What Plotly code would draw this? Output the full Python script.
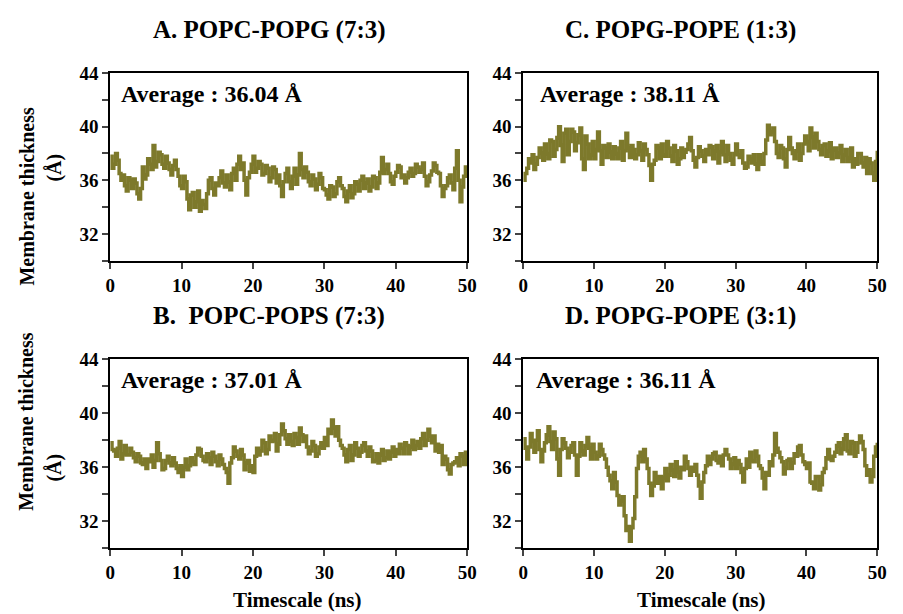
import plotly.graph_objects as go

# Time axis (ns), sampled every 0.25 ns
TIME_NS = [i * 0.25 for i in range(201)]

# A. POPC-POPG (7:3)
THICK_A = [37.8, 36.9, 37.2, 38.0, 37.5, 36.5, 36.0, 36.4, 35.6, 35.2, 36.2, 36.0, 35.4, 36.1, 35.8, 35.0, 34.6, 35.4, 37.0, 36.1,
           36.4, 37.6, 37.2, 36.8, 38.6, 37.0, 37.4, 38.1, 37.9, 37.2, 36.9, 37.8, 37.3, 36.8, 36.4, 37.1, 37.5, 36.8, 36.3, 35.6,
           35.4, 36.3, 35.9, 34.6, 33.8, 34.9, 35.1, 34.0, 34.4, 35.2, 33.7, 34.5, 34.2, 33.9, 35.0, 36.0, 36.2, 35.4, 34.9, 35.8,
           35.6, 36.2, 36.7, 35.8, 35.5, 36.4, 35.9, 35.3, 36.5, 36.9, 36.0, 37.2, 37.8, 36.8, 37.3, 36.0, 34.9, 36.2, 36.6, 37.2,
           37.8, 36.6, 36.9, 37.4, 37.2, 36.4, 36.5, 37.1, 36.9, 35.9, 36.2, 37.0, 36.8, 35.8, 36.4, 35.6, 34.8, 35.9, 36.5, 36.9,
           35.9, 35.4, 36.3, 36.9, 35.7, 36.4, 38.0, 36.8, 36.2, 37.0, 36.6, 35.9, 35.6, 36.4, 36.1, 35.3, 35.7, 36.5, 36.2, 35.4,
           35.3, 34.9, 34.6, 35.6, 35.5, 34.8, 35.0, 35.9, 36.2, 35.6, 35.4, 34.8, 34.4, 35.2, 35.6, 34.7, 35.0, 35.9, 35.7, 35.2,
           36.0, 36.3, 35.4, 35.8, 36.1, 35.2, 35.5, 36.3, 36.2, 35.4, 35.8, 36.6, 37.7, 36.5, 36.8, 37.2, 36.5, 35.9, 35.7, 36.3,
           36.6, 37.1, 37.0, 36.2, 36.4, 35.8, 36.2, 36.6, 36.9, 36.3, 36.5, 37.2, 37.0, 36.6, 36.8, 37.3, 36.3, 35.6, 35.9, 36.4,
           36.7, 37.3, 37.1, 36.6, 36.5, 35.6, 34.8, 35.4, 35.6, 36.2, 36.4, 35.8, 35.3, 36.9, 38.2, 36.0, 34.4, 35.5, 36.3, 37.0,
           36.5]

# B. POPC-POPS (7:3)
THICK_B = [37.8, 37.3, 37.2, 36.8, 37.4, 37.9, 36.6, 37.0, 37.6, 36.9, 36.9, 37.4, 37.1, 36.7, 36.4, 37.0, 36.8, 36.3, 36.2, 36.6,
           35.9, 36.6, 36.4, 36.9, 36.0, 36.5, 37.8, 37.0, 36.5, 35.8, 35.9, 36.5, 36.8, 36.3, 36.1, 36.7, 36.3, 35.9, 35.6, 36.1,
           35.3, 36.0, 36.6, 35.8, 36.1, 36.7, 36.4, 36.2, 36.9, 37.4, 37.3, 36.8, 36.5, 36.4, 37.0, 36.7, 36.2, 37.1, 36.8, 36.4,
           36.1, 36.9, 36.6, 36.2, 35.9, 35.6, 34.8, 36.3, 36.7, 37.5, 37.2, 36.8, 36.6, 37.3, 36.9, 35.8, 36.3, 36.5, 35.7, 36.1,
           35.6, 36.8, 37.4, 36.9, 37.2, 38.0, 37.8, 37.0, 37.3, 38.3, 37.9, 38.0, 38.5, 37.2, 37.7, 38.4, 39.2, 38.7, 38.1, 37.7,
           38.4, 37.9, 37.6, 38.5, 38.2, 37.7, 38.9, 38.4, 37.9, 38.3, 37.5, 37.0, 37.2, 37.9, 37.6, 36.8, 37.0, 37.5, 37.8, 37.4,
           38.2, 37.6, 38.8, 38.5, 39.5, 38.9, 38.3, 39.0, 38.0, 37.6, 37.4, 36.9, 36.4, 37.3, 37.6, 36.5, 36.9, 37.8, 37.4, 36.8,
           37.1, 37.6, 37.8, 37.2, 36.8, 37.5, 37.2, 36.4, 36.5, 37.0, 36.3, 36.9, 37.3, 36.5, 36.7, 37.2, 36.6, 37.1, 37.5, 36.8,
           37.3, 37.0, 37.7, 37.4, 37.0, 37.8, 37.6, 37.0, 37.5, 38.0, 37.3, 37.6, 37.9, 37.4, 38.1, 38.5, 37.6, 38.0, 38.8, 38.3,
           37.8, 38.3, 37.2, 37.7, 37.1, 37.6, 36.2, 36.8, 36.6, 35.8, 35.5, 36.2, 36.3, 36.4, 36.7, 36.1, 37.0, 36.8, 36.2, 37.1,
           36.6]

# C. POPG-POPE (1:3)
THICK_C = [36.0, 36.5, 36.9, 37.6, 37.3, 37.9, 36.8, 37.2, 37.7, 38.4, 38.0, 37.5, 38.7, 38.0, 37.6, 39.0, 38.9, 37.8, 38.3, 39.2,
           40.0, 38.6, 37.4, 39.5, 39.8, 37.9, 38.9, 39.8, 39.6, 38.2, 38.8, 39.4, 39.9, 37.6, 36.8, 39.3, 38.7, 37.6, 37.9, 38.9,
           37.6, 38.3, 39.6, 38.2, 37.2, 38.6, 38.4, 37.7, 38.7, 38.1, 37.6, 38.5, 38.0, 37.6, 38.4, 38.9, 37.5, 38.2, 39.5, 38.4,
           37.7, 38.6, 38.3, 37.6, 37.9, 38.8, 38.2, 37.5, 38.7, 38.3, 37.9, 37.1, 36.0, 37.2, 37.5, 38.6, 38.4, 37.6, 38.7, 37.9,
           37.8, 38.9, 38.4, 37.8, 37.4, 38.6, 38.2, 37.2, 37.6, 38.4, 37.7, 38.1, 38.3, 38.7, 39.2, 38.2, 37.5, 37.0, 37.7, 38.5,
           38.2, 37.8, 37.4, 38.3, 37.9, 38.6, 38.5, 37.6, 38.2, 38.6, 37.3, 38.1, 38.9, 37.9, 37.4, 38.6, 38.0, 37.5, 37.2, 38.0,
           38.7, 37.9, 37.7, 38.2, 37.3, 36.9, 37.0, 37.8, 37.6, 37.3, 37.9, 37.2, 36.8, 37.9, 37.4, 37.2, 38.0, 39.0, 40.1, 39.4,
           39.6, 39.9, 38.9, 38.0, 37.7, 38.6, 38.4, 37.6, 37.0, 38.3, 39.2, 38.4, 38.0, 37.6, 38.2, 38.7, 37.5, 38.0, 38.7, 39.3,
           38.9, 38.2, 39.9, 39.2, 38.4, 39.5, 38.9, 38.3, 37.9, 38.6, 38.7, 37.8, 38.2, 38.8, 37.6, 38.3, 38.4, 37.7, 38.0, 38.6,
           37.4, 37.9, 38.3, 37.4, 37.7, 38.4, 37.0, 37.6, 37.2, 38.0, 38.0, 37.3, 37.0, 37.7, 36.5, 37.6, 37.3, 36.5, 36.0, 37.4,
           38.2]

# D. POPG-POPE (3:1)
THICK_D = [38.1, 37.4, 36.6, 37.5, 38.5, 37.9, 37.1, 38.0, 38.7, 37.3, 36.4, 37.2, 37.8, 38.4, 39.0, 37.9, 37.3, 38.6, 38.1, 36.6,
           35.4, 37.3, 38.1, 37.8, 37.4, 36.7, 37.1, 37.6, 37.8, 36.9, 35.4, 36.8, 37.8, 37.2, 36.9, 37.6, 38.2, 37.4, 36.6, 37.7,
           37.1, 36.6, 36.8, 37.7, 37.3, 36.9, 36.6, 36.0, 35.4, 35.0, 34.4, 35.6, 34.9, 33.9, 33.2, 33.5, 33.8, 32.4, 31.3, 31.6,
           30.5, 31.5, 32.2, 33.8, 35.9, 36.8, 37.1, 36.4, 37.3, 36.6, 35.9, 34.8, 33.9, 34.6, 35.6, 35.3, 34.8, 35.3, 34.4, 35.2,
           35.9, 35.0, 35.4, 36.2, 35.8, 35.3, 36.4, 35.6, 35.2, 36.0, 35.8, 36.8, 36.4, 35.9, 35.4, 36.0, 35.7, 36.2, 35.4, 34.6,
           33.7, 34.9, 35.6, 36.1, 36.8, 36.2, 36.6, 37.0, 37.1, 36.5, 36.3, 36.8, 36.1, 36.9, 37.3, 36.9, 36.6, 35.9, 36.2, 36.7,
           35.9, 36.5, 36.2, 35.6, 34.9, 35.9, 36.6, 36.0, 37.1, 36.5, 36.4, 37.2, 36.8, 36.1, 35.9, 35.2, 34.4, 35.6, 35.4, 36.4,
           36.1, 36.9, 38.5, 37.4, 37.1, 36.7, 36.4, 35.5, 35.9, 36.5, 36.6, 35.9, 36.3, 37.0, 36.8, 37.5, 37.6, 36.9, 36.4, 36.2,
           35.9, 36.3, 34.9, 34.8, 34.4, 35.3, 35.3, 34.3, 34.7, 35.6, 35.9, 36.7, 37.3, 36.6, 36.5, 36.8, 37.1, 37.6, 37.8, 37.0,
           37.3, 38.1, 38.4, 37.2, 37.0, 37.9, 37.8, 36.8, 37.1, 37.8, 38.3, 37.9, 37.3, 36.1, 35.4, 35.8, 34.9, 35.3, 36.8, 37.5,
           37.8]

PANEL_TITLES = ["A. POPC-POPG (7:3)", "C. POPG-POPE (1:3)",
                "B.  POPC-POPS (7:3)", "D. POPG-POPE (3:1)"]
AVERAGES = ["Average : 36.04 Å", "Average : 38.11 Å",
            "Average : 37.01 Å", "Average : 36.11 Å"]
Y_TICKS = [30, 32, 34, 36, 38, 40, 42, 44]
Y_TICK_TEXT = ["", "32", "", "36", "", "40", "", "44"]
X_TICKS = [0, 10, 20, 30, 40, 50]

W, H = 903, 614
LINE_COLOR = "#7d792b"
FONT = "Liberation Serif, Times New Roman, serif"

# pixel boxes: (left, right, top, bottom)
boxes = [(107, 470, 64, 255), (527, 887, 64, 255),
         (107, 470, 355, 547), (527, 887, 355, 547)]
avg_left = [116, 542, 116, 538]
series = [THICK_A, THICK_C, THICK_B, THICK_D]

fig = go.Figure()
annotations = []
for i, (box, ys) in enumerate(zip(boxes, series)):
    l, r, t, b = box
    n = i + 1
    xa = "x" if n == 1 else f"x{n}"
    ya = "y" if n == 1 else f"y{n}"
    fig.add_trace(go.Scatter(x=TIME_NS, y=ys, mode="lines",
                             line=dict(color=LINE_COLOR, width=3.5, shape="hv"),
                             xaxis=xa, yaxis=ya, showlegend=False,
                             hoverinfo="skip"))
    xkey = "xaxis" if n == 1 else f"xaxis{n}"
    ykey = "yaxis" if n == 1 else f"yaxis{n}"
    fig.update_layout(**{
        xkey: dict(domain=[l / W, r / W], anchor=ya, range=[0, 50],
                   tickvals=X_TICKS, ticks="outside", ticklen=6, tickwidth=2,
                   showline=True, mirror=True, linewidth=2, linecolor="black",
                   showgrid=False, zeroline=False,
                   tickfont=dict(family=FONT, size=19, color="black", weight="bold")),
        ykey: dict(domain=[1 - b / H, 1 - t / H], anchor=xa, range=[30, 44],
                   tickvals=Y_TICKS, ticktext=Y_TICK_TEXT, ticks="outside",
                   ticklen=6, tickwidth=2,
                   showline=True, mirror=True, linewidth=2, linecolor="black",
                   showgrid=False, zeroline=False,
                   tickfont=dict(family=FONT, size=19, color="black", weight="bold")),
    })
    # panel title
    annotations.append(dict(text=PANEL_TITLES[i], xref="paper", yref="paper",
                            x=((l + r) / 2 - 20) / W, y=1 - (t - 44) / H,
                            xanchor="center", yanchor="middle", showarrow=False,
                            font=dict(family=FONT, size=25, color="black", weight="bold")))
    # average label
    annotations.append(dict(text=AVERAGES[i], xref="paper", yref="paper",
                            x=avg_left[i] / W, y=1 - (t + 21) / H,
                            xanchor="left", yanchor="middle", showarrow=False,
                            font=dict(family=FONT, size=24, color="black", weight="bold")))

# y-axis titles (per row)
for ymid, yA in [(189, 160), (418, 465)]:
    annotations.append(dict(text="Membrane thickness", xref="paper", yref="paper",
                            x=22 / W, y=1 - ymid / H, textangle=-90,
                            xanchor="center", yanchor="middle", showarrow=False,
                            font=dict(family=FONT, size=20, color="black", weight="bold")))
    annotations.append(dict(text="(Å)", xref="paper", yref="paper",
                            x=50 / W, y=1 - yA / H, textangle=-90,
                            xanchor="center", yanchor="middle", showarrow=False,
                            font=dict(family=FONT, size=20, color="black", weight="bold")))

# x-axis titles
for xc in [297, 708]:
    annotations.append(dict(text="Timescale (ns)", xref="paper", yref="paper",
                            x=xc / W, y=1 - 600 / H,
                            xanchor="center", yanchor="middle", showarrow=False,
                            font=dict(family=FONT, size=21, color="black", weight="bold")))

fig.update_layout(width=W, height=H, margin=dict(l=0, r=0, t=0, b=0),
                  paper_bgcolor="white", plot_bgcolor="white",
                  annotations=annotations)

fig.write_html("out.html")
